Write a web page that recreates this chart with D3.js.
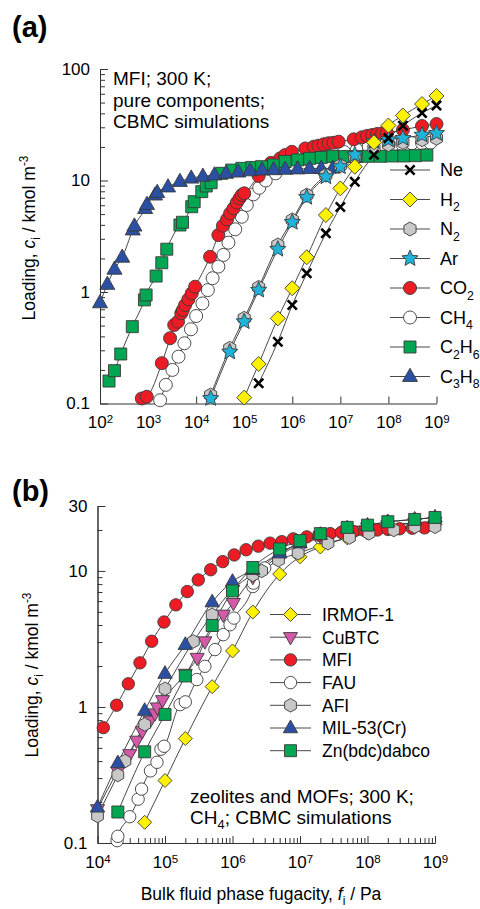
<!DOCTYPE html>
<html>
<head>
<meta charset="utf-8">
<script src="https://cdnjs.cloudflare.com/ajax/libs/d3/7.8.5/d3.min.js"></script>
<style>
body { margin: 0; background: #fff; }
svg { font-family: "Liberation Sans", Arial, sans-serif; }
</style>
</head>
<body>
<svg width="480" height="909"></svg>
<script>
// ---- panel (a): MFI, pure components, [fugacity Pa, loading kmol/m3]
var ne = [[2e5,0.152],[5e5,0.358],[1e6,0.764],[2e6,1.47],[5e6,3.36],[1e7,5.78],[2e7,9.75],[5e7,17],[1e8,24],[2e8,31],[5e8,40.3],[1e9,47.1]];
var h2 = [[1e5,0.113],[2e5,0.226],[5e5,0.58],[1e6,1.08],[2e6,2.05],[5e6,4.9],[1e7,8.5],[2e7,13.3],[5e7,22],[1e8,31.1],[2e8,38.3],[5e8,48.5],[1e9,57.3]];
var n2 = [[2e4,0.119],[5e4,0.313],[1e5,0.581],[2e5,1.1],[5e5,2.64],[1e6,4.43],[2e6,7.4],[5e6,11.2],[1e7,13.6],[2e7,16],[5e7,19.5],[1e8,21],[2e8,22],[5e8,23.2],[1e9,23.9]];
var ar = [[2e4,0.111],[5e4,0.29],[1e5,0.542],[2e5,1.04],[5e5,2.42],[1e6,4.22],[2e6,7.06],[5e6,10.8],[1e7,13.3],[2e7,17],[5e7,22.3],[1e8,23.2],[2e8,23.9],[5e8,25.6],[1e9,26.5]];
var co2 = [[740,0.111],[940,0.115],[1.93e3,0.23],[2.87e3,0.385],[3.5e3,0.506],[4.2e3,0.542],[4.9e3,0.644],[5.3e3,0.69],[5.9e3,0.764],[6.9e3,0.86],[8.1e3,0.973],[9.5e3,1.115],[1.95e4,2.07],[2.9e4,3.24],[3.6e4,3.93],[4.4e4,4.49],[5.1e4,5.08],[6e4,5.63],[7e4,6.33],[8e4,6.92],[8.9e4,7.41],[1e5,7.67],[2e5,10.97],[3.6e5,14.4],[5.6e5,15.8],[7.1e5,16.9],[9.8e5,18.1],[1.86e6,19.4],[2.8e6,20.1],[3.5e6,20.5],[4.5e6,21.1],[5.7e6,21.6],[7.2e6,21.8],[9.2e6,22.3],[1.9e7,23.4],[2.8e7,24.4],[3.6e7,25.1],[4.6e7,25.6],[5.8e7,26.1],[7.4e7,26.5],[9.3e7,26.8],[2e8,28.4],[5e8,30.8],[1e9,32.1]];
var ch4 = [[1.78e3,0.107],[2.34e3,0.147],[3.2e3,0.2],[4.3e3,0.263],[5.7e3,0.347],[7.8e3,0.463],[1e4,0.609],[1.35e4,0.79],[1.75e4,1.04],[2.2e4,1.33],[2.9e4,1.69],[3.7e4,2.15],[4.7e4,2.77],[6.5e4,3.65],[8.9e4,4.73],[1.13e5,6.03],[1.55e5,7.51],[2.05e5,8.6],[2.8e5,10],[4.5e5,11.6],[1e6,14],[2e6,15.5],[4e6,16.5],[7e6,17.3],[1.2e7,18],[2.2e7,18.8],[3.9e7,20.1],[5.8e7,20.5],[7.9e7,20.6],[1.28e8,20.8],[1.93e8,21.2],[3.1e8,21.6],[5e8,21.7],[7.5e8,21.8]];
var c2h6 = [[1.54e2,0.159],[2e2,0.197],[2.7e2,0.278],[4.7e2,0.489],[8.4e2,0.85],[9.1e2,0.94],[1.47e3,1.39],[1.93e3,1.83],[2.45e3,2.42],[4.6e3,3.99],[5.2e3,4.22],[8.1e3,5.82],[9.1e3,6.46],[1.31e4,7.94],[1.62e4,8.93],[2.05e4,9.55],[3.4e4,11.6],[5.5e4,12.4],[8.9e4,12.85],[1.44e5,13.1],[2.3e5,13.3],[4.1e5,13.8],[7.1e5,14.8],[1.29e6,15.3],[2.3e6,15.8],[4e6,16.1],[7e6,16.4],[1.23e7,16.4],[2.15e7,16.4],[3.76e7,16.5],[6.8e7,16.5],[1.19e8,16.6],[2.09e8,16.6],[3.65e8,16.7],[6.3e8,16.9]];
var c3h8 = [[1e2,0.8],[1.42e2,1.17],[2e2,1.6],[2.9e2,2.05],[4.8e2,3.6],[5.2e2,3.9],[8.7e2,5.6],[9.5e2,6.1],[1.4e3,7.4],[1.55e3,7.8],[2.6e3,8.75],[4.6e3,9.8],[7.9e3,10.5],[1.38e4,10.9],[2.4e4,11.2],[4.2e4,11.6],[7.5e4,11.9],[1.33e5,12.2],[2.35e5,12.4],[4.1e5,12.5],[7.1e5,12.6],[1.29e6,12.7],[2.3e6,12.8],[4e6,12.8],[7e6,12.9]];

// ---- panel (b): CH4 in zeolites and MOFs
var irmof = [[5e4,0.142],[1e5,0.288],[2e5,0.586],[5e5,1.41],[1e6,2.58],[2e6,4.99],[5e6,9.48],[1e7,12.7],[2e7,15],[5e7,17.5],[1e8,19],[2e8,20.3],[5e8,21.3],[1e9,22]];
var cubtc = [[1e4,0.177],[2e4,0.335],[3e4,0.449],[3.8e4,0.564],[4.6e4,0.662],[6e4,0.79],[7.1e4,0.895],[7.7e4,0.99],[9.2e4,1.12],[2e5,1.75],[3e5,2.29],[3.9e5,3.03],[7.3e5,4.76],[1.03e6,5.8],[2e6,9],[5e6,13.5],[1e7,16],[2e7,18],[5e7,19.8],[1e8,20.8],[2e8,21.6],[5e8,22.4],[1e9,23]];
var mfi = [[1.22e4,0.705],[1.92e4,1.03],[2.86e4,1.48],[4.26e4,2.11],[6.35e4,3.04],[9.66e4,4.21],[1.45e5,5.63],[2.14e5,7.05],[3.11e5,8.59],[4.75e5,10.2],[7.16e5,11.7],[1.06e6,13.1],[1.59e6,14.3],[2.41e6,15.2],[3.6e6,16],[5.37e6,16.4],[7.95e6,17.2],[1.26e7,17.8],[1.9e7,18.3],[2.8e7,18.8],[4.1e7,19.2],[6.2e7,19.5],[9.1e7,19.8],[1.4e8,20],[2e8,20.2],[3e8,20.4],[4.6e8,20.6],[7e8,20.7]];
var fau = [[1.95e4,0.104],[2e4,0.112],[3e4,0.156],[4e4,0.21],[4.5e4,0.249],[6.1e4,0.339],[7.6e4,0.392],[8.7e4,0.489],[9.7e4,0.514],[1.67e5,1.04],[2e5,1.09],[2.96e5,1.59],[3.9e5,1.99],[5.5e5,2.64],[7.3e5,3.4],[9.2e5,4.02],[1.05e6,4.5],[2e6,7.68],[2.04e6,8.13],[3e6,10.5],[5e6,13],[1e7,15.5],[2e7,17.5],[5e7,19.5],[1e8,20.8],[2e8,21.7],[5e8,22.5],[1e9,23]];
var afi = [[1e4,0.158],[2e4,0.316],[2.55e4,0.4],[5e4,0.744],[1e5,1.36],[2.63e5,3.03],[5e5,4.76],[1e6,7.26],[2e6,9.35],[2.7e6,10],[4.8e6,12],[9.4e6,13.5],[2.6e7,16],[5.4e7,17.6],[1.05e8,18.9],[2.45e8,20],[5e8,21.1],[1e9,21.1]];
var mil53 = [[1e4,0.183],[2e4,0.387],[5e4,0.94],[1e5,1.76],[2e5,2.87],[5e5,5.9],[1e6,8.35],[2e6,10.2],[5e6,13.5],[1e7,16],[2e7,18.5],[5e7,20.6],[1e8,21.6],[2e8,22.9],[5e8,23.9],[1e9,24.8]];
var znbdc = [[2e4,0.169],[5e4,0.468],[1e5,0.881],[2e5,1.69],[5e5,3.97],[1e6,7.13],[2e6,10.6],[5e6,14.5],[1e7,16.7],[2e7,18.8],[5e7,20.9],[1e8,21.7],[2e8,23],[5e8,23.9],[1e9,24.7]];

var legendA = ['Ne', 'H_{2}', 'N_{2}', 'Ar', 'CO_{2}', 'CH_{4}', 'C_{2}H_{6}', 'C_{3}H_{8}'];
var legendB = ['IRMOF-1', 'CuBTC', 'MFI', 'FAU', 'AFI', 'MIL-53(Cr)', 'Zn(bdc)dabco'];
var xTicksA = [1e2, 1e3, 1e4, 1e5, 1e6, 1e7, 1e8, 1e9];
var yTicksA = [0.1, 1, 10, 100];
var xTicksB = [1e4, 1e5, 1e6, 1e7, 1e8, 1e9];
var yTicksB = [0.1, 1, 10, 30];

var svg = d3.select('svg');

var seriesA = [
    {label: legendA[0], data: ne,   shape: 'cross',    fill: 'none',    r: 4.6},
    {label: legendA[1], data: h2,   shape: 'diamond',  fill: '#fff200', r: 7.5},
    {label: legendA[2], data: n2,   shape: 'hexagon',  fill: '#c8c8c8', r: 7},
    {label: legendA[3], data: ar,   shape: 'star',     fill: '#1fb3d9', r: 8.5},
    {label: legendA[4], data: co2,  shape: 'circle',   fill: '#ed1c24', r: 6.5},
    {label: legendA[5], data: ch4,  shape: 'circle',   fill: '#ffffff', r: 6.5},
    {label: legendA[6], data: c2h6, shape: 'square',   fill: '#00a651', r: 6},
    {label: legendA[7], data: c3h8, shape: 'triangle', fill: '#2a4fa3', r: 7.5}
];
var orderA = [5, 4, 6, 7, 2, 3, 1, 0];

var seriesB = [
    {label: legendB[0], data: irmof, shape: 'diamond',      fill: '#fff200', r: 7},
    {label: legendB[1], data: cubtc, shape: 'triangleDown', fill: '#d659a9', r: 7},
    {label: legendB[2], data: mfi,   shape: 'circle',       fill: '#ed1c24', r: 6.2},
    {label: legendB[3], data: fau,   shape: 'circle',       fill: '#ffffff', r: 6.2},
    {label: legendB[4], data: afi,   shape: 'hexagon',      fill: '#c8c8c8', r: 6.8},
    {label: legendB[5], data: mil53, shape: 'triangle',     fill: '#2a4fa3', r: 7.2},
    {label: legendB[6], data: znbdc, shape: 'square',       fill: '#00a651', r: 6}
];
var orderB = [0, 3, 1, 2, 4, 5, 6];

function shapePath(kind, r) {
    var pts = [], i, a;
    if (kind === 'circle') {
        return 'M' + r + ',0A' + r + ',' + r + ' 0 1,1 ' + (-r) + ',0A' + r + ',' + r + ' 0 1,1 ' + r + ',0Z';
    }
    if (kind === 'cross') {
        return 'M' + (-r) + ',' + (-r) + 'L' + r + ',' + r + 'M' + (-r) + ',' + r + 'L' + r + ',' + (-r);
    }
    if (kind === 'square') pts = [[-r, -r], [r, -r], [r, r], [-r, r]];
    if (kind === 'diamond') pts = [[0, -r], [r, 0], [0, r], [-r, 0]];
    if (kind === 'triangle') pts = [[0, -r * 1.1], [r, r * 0.66], [-r, r * 0.66]];
    if (kind === 'triangleDown') pts = [[0, r * 1.1], [r, -r * 0.66], [-r, -r * 0.66]];
    if (kind === 'hexagon') {
        for (i = 0; i < 6; i++) {
            a = -Math.PI / 2 + i * Math.PI / 3;
            pts.push([r * Math.cos(a), r * Math.sin(a)]);
        }
    }
    if (kind === 'star') {
        for (i = 0; i < 10; i++) {
            a = -Math.PI / 2 + i * Math.PI / 5;
            var rr = i % 2 ? r * 0.46 : r;
            pts.push([rr * Math.cos(a), rr * Math.sin(a)]);
        }
    }
    return 'M' + pts.map(function(p) { return p[0].toFixed(2) + ',' + p[1].toFixed(2); }).join('L') + 'Z';
}

function drawMarker(g, s, x, y) {
    var m = g.append('path')
        .attr('d', shapePath(s.shape, s.r))
        .attr('transform', 'translate(' + x + ',' + y + ')');
    if (s.shape === 'cross') {
        m.attr('fill', 'none').attr('stroke', '#000').attr('stroke-width', 2.6);
    } else {
        m.attr('fill', s.fill).attr('stroke', '#3a3a3a').attr('stroke-width', 0.9);
    }
}

// text with _{sub}, ^{sup}, ~{italic}
function rich(text, str, size) {
    var re = /([_^~])\{([^}]*)\}/g, last = 0, m, shift = 0;
    function add(s, kind) {
        if (!s) return;
        var ts = text.append('tspan').text(s);
        var target = kind === '_' ? size * 0.28 : (kind === '^' ? -size * 0.42 : 0);
        if (target !== shift) { ts.attr('dy', target - shift); shift = target; }
        if (kind === '_' || kind === '^') ts.attr('font-size', size * 0.68);
        if (kind === '~') ts.attr('font-style', 'italic');
    }
    while ((m = re.exec(str))) {
        add(str.slice(last, m.index), '');
        add(m[2], m[1]);
        last = re.lastIndex;
    }
    add(str.slice(last), '');
}

function drawPanel(p) {
    var x = d3.scaleLog().domain(p.xDomain).range(p.xRange),
        y = d3.scaleLog().domain(p.yDomain).range(p.yRange);
    var g = svg.append('g');

    // y axis: minor ticks, then major ticks with labels
    var yMinor = y.ticks().filter(function(d) { return p.yTicks.indexOf(d) < 0; });
    g.append('g')
        .attr('transform', 'translate(' + p.xRange[0] + ',0)')
        .call(d3.axisLeft(y).tickValues(yMinor).tickSizeInner(-5).tickSizeOuter(0).tickFormat(''));
    var ya = g.append('g')
        .attr('transform', 'translate(' + p.xRange[0] + ',0)')
        .call(d3.axisLeft(y).tickValues(p.yTicks).tickSizeInner(-8).tickSizeOuter(0)
            .tickPadding(10).tickFormat(function(d) { return String(d); }));
    ya.attr('font-size', 17).attr('font-family', null);

    // x axis
    if (p.xMinor) {
        var xMinor = x.ticks().filter(function(d) { return p.xTicks.indexOf(d) < 0; });
        g.append('g')
            .attr('transform', 'translate(0,' + p.yRange[0] + ')')
            .call(d3.axisBottom(x).tickValues(xMinor).tickSizeInner(-5).tickSizeOuter(0).tickFormat(''));
    }
    var xa = g.append('g')
        .attr('transform', 'translate(0,' + p.yRange[0] + ')')
        .call(d3.axisBottom(x).tickValues(p.xTicks).tickSizeInner(-7).tickSizeOuter(0).tickPadding(p.xPad));
    xa.attr('font-size', 17).attr('font-family', null);
    xa.selectAll('.tick text').each(function(d) {
        var t = d3.select(this).text('');
        t.append('tspan').text('10');
        t.append('tspan').attr('dy', '-0.48em').attr('font-size', 11.5).text(Math.round(Math.log10(d)));
    });
    g.selectAll('.domain, .tick line').attr('stroke', '#333');
    g.selectAll('.tick text').attr('fill', '#000');

    // fit lines
    var line = d3.line()
        .x(function(d) { return x(d[0]); })
        .y(function(d) { return y(d[1]); })
        .curve(d3.curveMonotoneX);
    p.series.forEach(function(s) {
        g.append('path').datum(s.data)
            .attr('d', line)
            .attr('fill', 'none')
            .attr('stroke', '#333')
            .attr('stroke-width', 0.9);
    });

    // markers
    p.order.forEach(function(i) {
        var s = p.series[i];
        s.data.forEach(function(d) { drawMarker(g, s, x(d[0]), y(d[1])); });
    });

    // legend
    p.series.forEach(function(s, i) {
        var ly = p.legend.y + i * p.legend.dy;
        g.append('line')
            .attr('x1', p.legend.x1).attr('x2', p.legend.x2)
            .attr('y1', ly).attr('y2', ly)
            .attr('stroke', '#333').attr('stroke-width', 0.9);
        drawMarker(g, s, (p.legend.x1 + p.legend.x2) / 2, ly);
        var t = g.append('text')
            .attr('x', p.legend.tx).attr('y', ly + p.legend.size * 0.36)
            .attr('font-size', p.legend.size);
        rich(t, s.label, p.legend.size);
    });

    // annotation
    p.note.lines.forEach(function(str, i) {
        var t = g.append('text')
            .attr('x', p.note.x).attr('y', p.note.y + i * p.note.dy)
            .attr('font-size', 19);
        rich(t, str, 19);
    });

    // y title
    var yt = g.append('text')
        .attr('transform', 'translate(' + p.yTitle[0] + ',' + p.yTitle[1] + ') rotate(-90)')
        .attr('text-anchor', 'middle')
        .attr('font-size', 17.5);
    rich(yt, 'Loading, ~{c}_{i} / kmol m^{-3}', 17.5);

    // panel tag
    g.append('text')
        .attr('x', 12).attr('y', p.tagY)
        .attr('font-size', 29).attr('font-weight', 'bold')
        .text(p.tag);
}

drawPanel({
    xDomain: [1e2, 1e9], xRange: [100, 436.5],
    yDomain: [0.1, 100], yRange: [403.5, 69],
    xTicks: xTicksA, yTicks: yTicksA, xMinor: false, xPad: 12.5,
    series: seriesA, order: orderA,
    legend: {x1: 390, x2: 430, tx: 440, y: 170, dy: 29.5, size: 18},
    note: {x: 113, y: 85, dy: 21.5, lines: ['MFI; 300 K;', 'pure components;', 'CBMC simulations']},
    yTitle: [35, 238],
    tag: '(a)', tagY: 37
});

drawPanel({
    xDomain: [1e4, 1e9], xRange: [97.5, 435],
    yDomain: [0.1, 30], yRange: [843, 506],
    xTicks: xTicksB, yTicks: yTicksB, xMinor: true, xPad: 13,
    series: seriesB, order: orderB,
    legend: {x1: 270, x2: 311, tx: 322, y: 614.5, dy: 22.7, size: 17.5},
    note: {x: 190, y: 803, dy: 21, lines: ['zeolites and MOFs; 300 K;', 'CH_{4}; CBMC simulations']},
    yTitle: [38, 675],
    tag: '(b)', tagY: 501
});

var xt = svg.append('text')
    .attr('x', 261).attr('y', 900)
    .attr('text-anchor', 'middle')
    .attr('font-size', 17.5);
rich(xt, 'Bulk fluid phase fugacity, ~{f}_{i} / Pa', 17.5);
</script>
</body>
</html>
